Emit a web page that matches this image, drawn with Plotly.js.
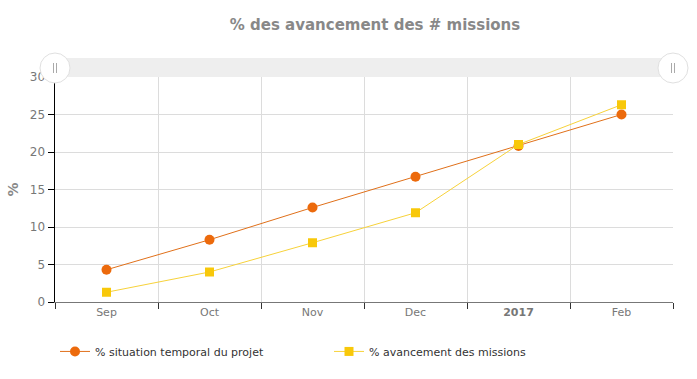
<!DOCTYPE html>
<html><head><meta charset="utf-8">
<script src="https://cdn.plot.ly/plotly-3.0.1.min.js"></script>
<style>html,body{margin:0;padding:0;background:#fff}#chart{width:697px;height:379px}</style>
</head><body><div id="chart"></div>
<script>
const months = ["Sep", "Oct", "Nov", "Dec", "<b>2017</b>", "Feb"];
const situationTemporal = [4.3, 8.3, 12.6, 16.7, 20.8, 25.0];
const avancementMissions = [1.3, 4.0, 7.9, 11.9, 21.0, 26.3];
const seriesNames = ["% situation temporal du projet", "% avancement des missions"];

const traces = [
  {x: months, y: situationTemporal, name: seriesNames[0], type: 'scatter', mode: 'lines+markers',
   line: {color: '#E0701A', width: 1}, marker: {color: '#EC6A0C', size: 10, symbol: 'circle'}},
  {x: months, y: avancementMissions, name: seriesNames[1], type: 'scatter', mode: 'lines+markers',
   line: {color: '#F7D23A', width: 1}, marker: {color: '#F8C80A', size: 9, symbol: 'square'}}
];

function handle(xp) {
  return [
    {type: 'circle', xref: 'paper', yref: 'paper', xsizemode: 'pixel', ysizemode: 'pixel',
     xanchor: xp, yanchor: 1.04, x0: -15, x1: 15, y0: -15, y1: 15,
     fillcolor: '#ffffff', line: {color: '#e0e0e0', width: 1}, layer: 'above'},
    {type: 'line', xref: 'paper', yref: 'paper', xsizemode: 'pixel', ysizemode: 'pixel',
     xanchor: xp, yanchor: 1.04, x0: -1.5, x1: -1.5, y0: -5, y1: 5, line: {color: '#aaa', width: 1}, layer: 'above'},
    {type: 'line', xref: 'paper', yref: 'paper', xsizemode: 'pixel', ysizemode: 'pixel',
     xanchor: xp, yanchor: 1.04, x0: 1.5, x1: 1.5, y0: -5, y1: 5, line: {color: '#aaa', width: 1}, layer: 'above'}
  ];
}

const layout = {
  width: 697, height: 379,
  margin: {l: 55, r: 24, t: 77, b: 77},
  paper_bgcolor: '#fff', plot_bgcolor: '#fff',
  font: {family: 'DejaVu Sans, Verdana, sans-serif', size: 11, color: '#666'},
  title: {text: '% des avancement des # missions', x: 0.538, xanchor: 'center', y: 0.935, yanchor: 'middle',
          font: {family: 'DejaVu Sans, Verdana, sans-serif', size: 15, color: '#888', weight: 'bold'}},
  xaxis: {type: 'category', tickson: 'boundaries', showgrid: true, gridcolor: '#dcdcdc', gridwidth: 1,
          showline: true, linecolor: '#777', linewidth: 1, ticks: 'outside', ticklen: 6, tickcolor: '#333',
          tickfont: {size: 11, color: '#777'}, range: [-0.5, 5.5], zeroline: false, fixedrange: true},
  yaxis: {range: [0, 30], dtick: 5, showgrid: true, gridcolor: '#dcdcdc', showline: true, linecolor: '#000',
          linewidth: 1.5, ticks: 'outside', ticklen: 6, tickcolor: '#000', zeroline: false,
          tickfont: {size: 12, color: '#777'},
          title: {text: '<b>%</b>', standoff: 8, font: {size: 14, color: '#888'}}},
  legend: {orientation: 'h', x: 0, xanchor: 'left', yref: 'container', y: 0.111, yanchor: 'top',
           entrywidth: 229, entrywidthmode: 'pixels', font: {size: 11, color: '#333'}},
  shapes: [
    {type: 'rect', xref: 'paper', yref: 'paper', x0: 0, x1: 1, y0: 1.0, y1: 1.085,
     fillcolor: '#eeeeee', line: {width: 0}, layer: 'above'}
  ].concat(handle(0), handle(1)),
  showlegend: true
};

Plotly.newPlot('chart', traces, layout, {displayModeBar: false, staticPlot: true});
</script>
</body></html>
